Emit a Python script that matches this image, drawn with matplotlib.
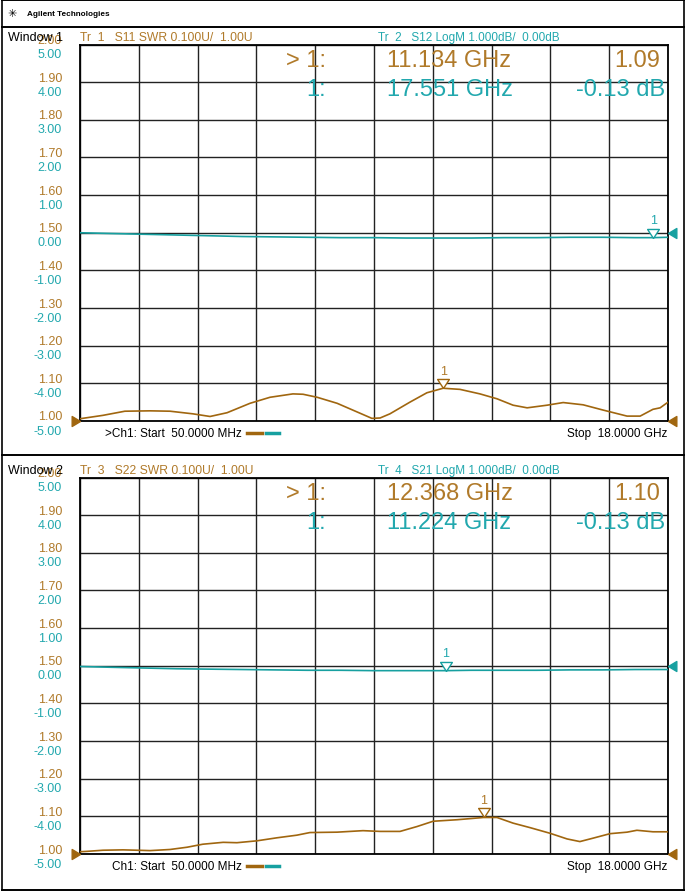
import matplotlib.pyplot as plt
import numpy as np
from matplotlib.lines import Line2D
from matplotlib.transforms import ScaledTranslation

# ---- data (GHz, SWR units, dB) ----
f_start, f_stop = 0.05, 18.0

# Window 1: Tr1 S11 SWR, Tr2 S12 LogM
s11_f = [0.05, 0.75, 1.42, 2.19, 2.80, 3.50, 4.02, 4.54, 5.24, 5.85, 6.55, 6.86,
         7.29, 7.90, 8.51, 8.96, 9.21, 9.51, 10.12, 10.64, 11.134, 11.65, 12.26,
         12.78, 13.27, 13.70, 14.31, 14.80, 15.41, 16.02, 16.75, 17.15, 17.54,
         17.76, 18.0]
s11_swr = [1.006, 1.015, 1.026, 1.027, 1.026, 1.019, 1.012, 1.022, 1.047, 1.063,
           1.072, 1.071, 1.063, 1.047, 1.024, 1.007, 1.008, 1.019, 1.050, 1.075,
           1.087, 1.084, 1.072, 1.059, 1.042, 1.035, 1.042, 1.049, 1.043, 1.029,
           1.013, 1.013, 1.031, 1.035, 1.050]
s12_f = [0.05, 1.0, 2.0, 3.0, 4.0, 5.0, 6.0, 7.0, 8.0, 9.0, 10.0, 11.0, 12.0,
         13.0, 14.0, 15.0, 16.0, 17.0, 17.551, 18.0]
s12_db = [0.0, -0.02, -0.04, -0.06, -0.08, -0.10, -0.11, -0.12, -0.13, -0.13,
          -0.14, -0.14, -0.14, -0.13, -0.13, -0.12, -0.12, -0.13, -0.13, -0.12]

# Window 2: Tr3 S22 SWR, Tr4 S21 LogM
s22_f = [0.05, 0.26, 0.75, 1.36, 1.79, 2.19, 2.80, 3.32, 3.80, 4.42, 4.84, 5.45,
         6.06, 6.67, 7.07, 7.90, 8.69, 9.21, 9.82, 10.34, 10.83, 11.56, 12.368,
         12.78, 13.27, 13.79, 14.40, 14.92, 15.31, 15.71, 16.23, 16.75, 17.05,
         17.54, 18.0]
s22_swr = [1.006, 1.007, 1.010, 1.011, 1.010, 1.009, 1.012, 1.018, 1.026, 1.031,
           1.030, 1.035, 1.043, 1.050, 1.057, 1.058, 1.062, 1.060, 1.060, 1.073,
           1.087, 1.091, 1.097, 1.097, 1.082, 1.070, 1.055, 1.040, 1.033, 1.042,
           1.054, 1.058, 1.063, 1.059, 1.059]
s21_f = [0.05, 1.0, 2.0, 3.0, 4.0, 5.0, 6.0, 7.0, 8.0, 9.0, 10.0, 11.224, 12.0,
         13.0, 14.0, 15.0, 16.0, 17.0, 18.0]
s21_db = [-0.02, -0.04, -0.06, -0.08, -0.09, -0.10, -0.11, -0.12, -0.12, -0.13,
          -0.13, -0.13, -0.12, -0.12, -0.12, -0.11, -0.11, -0.10, -0.10]

swr_ticks = [1.00, 1.10, 1.20, 1.30, 1.40, 1.50, 1.60, 1.70, 1.80, 1.90, 2.00]
db_ticks = [-5.0, -4.0, -3.0, -2.0, -1.0, 0.0, 1.0, 2.0, 3.0, 4.0, 5.0]

windows = [
    dict(name="Window 1", tr_a="Tr  1   S11 SWR 0.100U/  1.00U",
         tr_b="Tr  2   S12 LogM 1.000dB/  0.00dB",
         swr=(s11_f, s11_swr), db=(s12_f, s12_db),
         mk_swr=11.134, mk_db=17.551,
         read_a=("> 1:", "11.134 GHz", "1.09"), read_b=("1:", "17.551 GHz", "-0.13 dB"),
         start=">Ch1: Start  50.0000 MHz"),
    dict(name="Window 2", tr_a="Tr  3   S22 SWR 0.100U/  1.00U",
         tr_b="Tr  4   S21 LogM 1.000dB/  0.00dB",
         swr=(s22_f, s22_swr), db=(s21_f, s21_db),
         mk_swr=12.368, mk_db=11.224,
         read_a=("> 1:", "12.368 GHz", "1.10"), read_b=("1:", "11.224 GHz", "-0.13 dB"),
         start="Ch1: Start  50.0000 MHz"),
]

BROWN = "#a0660f"
TEAL = "#17a0a0"
BROWN_TXT = "#b07a2a"
TEAL_TXT = "#22a8ae"

W, H = 687, 895
plt.rcParams['font.family'] = ['Liberation Sans', 'DejaVu Sans']
fig = plt.figure(figsize=(W / 100, H / 100), dpi=100)


def fx(x):
    return x / W


def fy(y):
    return 1 - y / H


def ftext(x, y, s, **kw):
    fig.text(fx(x), fy(y), s, va='center', **kw)


# tip-anchored marker shapes
tri_down = [(0, 0), (-0.65, 1), (0.65, 1), (0, 0)]
tri_right = [(0, 0), (-1, 0.6), (-1, -0.6), (0, 0)]
tri_left = [(0, 0), (1, 0.6), (1, -0.6), (0, 0)]

# header and frames
fig.add_artist(Line2D([fx(2), fx(2)], [fy(1), fy(891)], color='black', lw=1.2))
fig.add_artist(Line2D([fx(684), fx(684)], [fy(1), fy(891)], color='black', lw=1.2))
for yy in [1, 28, 456, 891]:
    fig.add_artist(Line2D([fx(2), fx(684)], [fy(yy), fy(yy)], color='black', lw=1.4))
ftext(12, 14, "\u2733", fontsize=8, ha='center', family='DejaVu Sans')
ftext(27, 14, "Agilent Technologies", fontsize=5.9, fontweight='bold')

up = ScaledTranslation(0, 0.06, fig.dpi_scale_trans)
down = ScaledTranslation(0, -0.08, fig.dpi_scale_trans)

plot_top = [45.5, 478.5]
plot_h = 376.5
for w, top in zip(windows, plot_top):
    ax = fig.add_axes([fx(80), fy(top + plot_h), 588 / W, plot_h / H])
    ax.set_xlim(f_start, f_stop)
    ax.set_ylim(1.0, 2.0)
    ax.set_xticks(np.linspace(f_start, f_stop, 11))
    ax.set_yticks(swr_ticks, ["%.2f" % v for v in swr_ticks])
    ax.tick_params(axis='x', length=0, labelbottom=False)
    ax.tick_params(axis='y', length=0, pad=13, labelsize=9, labelcolor=BROWN_TXT)
    for lab in ax.get_yticklabels():
        lab.set_transform(lab.get_transform() + up)
    ax.grid(True, color='#222222', lw=1.0)
    for sp in ax.spines.values():
        sp.set_color('black')
        sp.set_linewidth(1.3)

    ax2 = ax.twinx()
    ax2.set_ylim(-5, 5)
    ax2.set_yticks(db_ticks, ["%.2f" % v for v in db_ticks])
    ax2.yaxis.tick_left()
    ax2.tick_params(axis='y', length=0, pad=13, labelsize=9, labelcolor=TEAL_TXT)
    for lab in ax2.get_yticklabels():
        lab.set_transform(lab.get_transform() + down)
    for sp in ax2.spines.values():
        sp.set_visible(False)

    ax2.plot(w['db'][0], w['db'][1], color=TEAL, lw=1.2)
    ax.plot(w['swr'][0], w['swr'][1], color=BROWN, lw=1.2, zorder=5)

    # markers
    ys = np.interp(w['mk_swr'], w['swr'][0], w['swr'][1])
    ax.plot([w['mk_swr']], [ys], marker=tri_down, ms=13, mfc='white', mec=BROWN,
            mew=1.0, zorder=6, clip_on=False)
    ax.annotate("1", (w['mk_swr'], ys), xytext=(0, 12.5), textcoords='offset points',
                ha='center', va='center', fontsize=9, color=BROWN_TXT)
    yd = np.interp(w['mk_db'], w['db'][0], w['db'][1])
    ax2.plot([w['mk_db']], [yd], marker=tri_down, ms=13, mfc='white', mec=TEAL,
             mew=1.0, zorder=6, clip_on=False)
    ax2.annotate("1", (w['mk_db'], yd), xytext=(0, 12.5), textcoords='offset points',
                 ha='center', va='center', fontsize=9, color=TEAL_TXT)

    # reference position arrows
    ax.plot([f_start], [1.0], marker=tri_right, ms=12, color=BROWN, clip_on=False, zorder=7)
    ax.plot([f_stop], [1.0], marker=tri_left, ms=12, color=BROWN, clip_on=False, zorder=7)
    ax2.plot([f_stop], [0.0], marker=tri_left, ms=12, color=TEAL, clip_on=False, zorder=7)

    # texts
    off = top - 45.5
    ftext(8, 38 + off, w['name'], fontsize=9, color='black')
    ftext(80, 38 + off, w['tr_a'], fontsize=8.7, color=BROWN_TXT)
    ftext(378, 38 + off, w['tr_b'], fontsize=8.5, color=TEAL_TXT)
    rows = [(w['read_a'], 61, BROWN_TXT, 660), (w['read_b'], 90, TEAL_TXT, 665)]
    for (lab, freq, val), yy, c, xr in rows:
        ftext(326, yy + off, lab, fontsize=17, color=c, ha='right')
        ftext(387, yy + off, freq, fontsize=17, color=c)
        ftext(xr, yy + off, val, fontsize=17, color=c, ha='right')
    sx = 105 if w['start'].startswith('>') else 112
    ftext(sx, 434 + off, w['start'], fontsize=8.5, color='black')
    fig.add_artist(Line2D([fx(247), fx(262)], [fy(434 + off)] * 2, color=BROWN, lw=2.5))
    fig.add_artist(Line2D([fx(266), fx(279)], [fy(434 + off)] * 2, color=TEAL, lw=2.5))
    ftext(667, 434 + off, "Stop  18.0000 GHz", fontsize=8.5, color='black', ha='right')

fig.savefig("out.png", dpi=100)
